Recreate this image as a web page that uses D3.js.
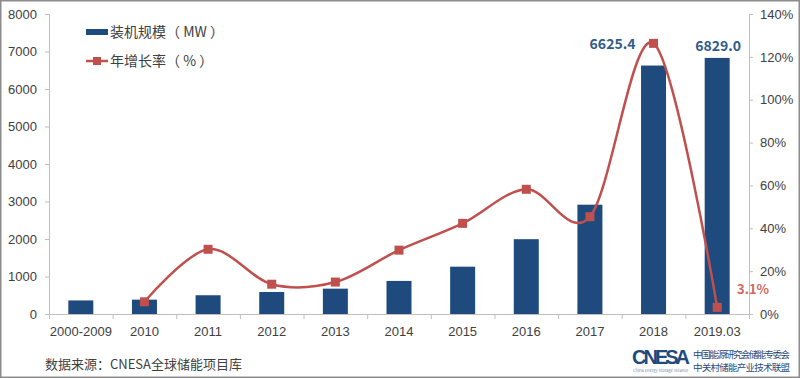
<!DOCTYPE html>
<html>
<head>
<meta charset="utf-8">
<script src="https://cdn.jsdelivr.net/npm/d3@7"></script>
<style>
  body { margin: 0; background: #fff; }
  svg { display: block; font-family: "Noto Sans CJK SC", "Noto Sans", sans-serif; }
  .axis path, .axis line { stroke: #bfbfbf; }
  .axis text { fill: #404040; font-size: 13px; }
</style>
</head>
<body>
<svg width="800" height="378"></svg>
<script>
// data
let years = ["2000-2009", "2010", "2011", "2012", "2013", "2014", "2015", "2016", "2017", "2018", "2019.03"];
let capacity = [362, 383, 500, 587, 676, 882, 1262, 1995, 2915, 6625.4, 6829.0];   // MW
let growth = [null, 5.7, 30.2, 13.9, 14.9, 29.8, 42.3, 58.2, 45.4, 126.3, 3.1];    // %
let leftTicks = [0, 1000, 2000, 3000, 4000, 5000, 6000, 7000, 8000];
let rightTicks = [0, 20, 40, 60, 80, 100, 120, 140];

let svg = d3.select("svg"),
    width = +svg.attr("width"),
    height = +svg.attr("height");

const BLUE = "#1f4a7e", RED = "#c0504d";

// frame
svg.append("rect")
  .attr("x", 0.75).attr("y", 0.75)
  .attr("width", width - 1.5).attr("height", height - 1.5)
  .attr("fill", "#fff").attr("stroke", "#8c8c8c").attr("stroke-width", 1.5);

let x = d3.scaleBand().domain(years).range([49, 749]);
let y = d3.scaleLinear().domain([0, 8000]).range([314, 14]);
let y2 = d3.scaleLinear().domain([0, 140]).range([314, 14]);

// left axis
let gl = svg.append("g").attr("class", "axis")
  .attr("transform", "translate(49,0)")
  .call(d3.axisLeft(y).tickValues(leftTicks).tickSize(4).tickPadding(8).tickFormat(d3.format("d")));

// right axis
let gr = svg.append("g").attr("class", "axis")
  .attr("transform", "translate(749,0)")
  .call(d3.axisRight(y2).tickValues(rightTicks).tickSize(4).tickPadding(7).tickFormat(d => d + "%"));

// bottom axis (labels), ticks on category boundaries
let gb = svg.append("g").attr("class", "axis")
  .attr("transform", "translate(0,314)")
  .call(d3.axisBottom(x).tickSize(0).tickPadding(13));
gb.select(".domain").attr("d", "M49,0.5H749");
gb.selectAll(".bound")
  .data(years.map(d => x(d)).concat([x.range()[1]]))
  .enter().append("line")
  .attr("x1", d => d + 0.5).attr("x2", d => d + 0.5)
  .attr("y1", 0).attr("y2", 5)
  .attr("stroke", "#bfbfbf");

// bars
let barW = 25;
svg.append("g").selectAll("rect")
  .data(capacity)
  .enter().append("rect")
  .attr("x", (d, i) => x(years[i]) + x.bandwidth() / 2 - barW / 2)
  .attr("y", d => y(d))
  .attr("width", barW)
  .attr("height", d => y(0) - y(d))
  .attr("fill", BLUE);

// growth line (smoothed like excel)
let pts = growth.map((g, i) => ({ year: years[i], g: g })).filter(d => d.g !== null);
let line = d3.line()
  .x(d => x(d.year) + x.bandwidth() / 2)
  .y(d => y2(d.g))
  .curve(d3.curveCardinal.tension(0));

svg.append("path")
  .datum(pts)
  .attr("d", line)
  .attr("fill", "none")
  .attr("stroke", RED)
  .attr("stroke-width", 2.5);

svg.append("g").selectAll("rect")
  .data(pts)
  .enter().append("rect")
  .attr("x", d => x(d.year) + x.bandwidth() / 2 - 4.5)
  .attr("y", d => y2(d.g) - 4.5)
  .attr("width", 9).attr("height", 9)
  .attr("fill", RED);

// data labels
svg.append("text")
  .attr("x", x("2018") + x.bandwidth() / 2 - 41).attr("y", y(6625.4) - 17)
  .attr("text-anchor", "middle")
  .style("font-size", "14px").style("font-weight", "bold").attr("fill", "#2f5c8a")
  .text("6625.4");
svg.append("text")
  .attr("x", x("2019.03") + x.bandwidth() / 2 + 1).attr("y", y(6829.0) - 7)
  .attr("text-anchor", "middle")
  .style("font-size", "14px").style("font-weight", "bold").attr("fill", "#2f5c8a")
  .text("6829.0");
svg.append("text")
  .attr("x", 737).attr("y", y2(3.1) - 13)
  .style("font-size", "13px").style("font-weight", "bold").attr("fill", "#d0685f")
  .text("3.1%");

// legend
let lg = svg.append("g");
lg.append("rect").attr("x", 86).attr("y", 29).attr("width", 22).attr("height", 6).attr("fill", BLUE);
lg.append("text").attr("x", 110).attr("y", 32).attr("dy", "0.35em")
  .style("font-size", "14px").attr("fill", "#404040").text("装机规模（ MW ）");
lg.append("line").attr("x1", 86).attr("x2", 108).attr("y1", 61).attr("y2", 61)
  .attr("stroke", RED).attr("stroke-width", 2.5);
lg.append("rect").attr("x", 93).attr("y", 57).attr("width", 8).attr("height", 8).attr("fill", RED);
lg.append("text").attr("x", 110).attr("y", 61).attr("dy", "0.35em")
  .style("font-size", "14px").attr("fill", "#404040").text("年增长率（ % ）");

// source
svg.append("text").attr("x", 45).attr("y", 364).attr("dy", "0.35em")
  .style("font-size", "13px").attr("fill", "#404040")
  .text("数据来源：CNESA全球储能项目库");

// logo
let logo = svg.append("g");
logo.append("text").attr("x", 632).attr("y", 364)
  .style("font-family", "'Liberation Sans', sans-serif")
  .style("font-size", "20px").style("font-weight", "bold")
  .attr("fill", "#1f4a7e").attr("textLength", 58).text("CNESA");
logo.append("text").attr("x", 633).attr("y", 372)
  .style("font-size", "4px").attr("fill", "#6f8fb0").text("China Energy Storage Alliance");
logo.append("text").attr("x", 693).attr("y", 358)
  .style("font-size", "9.5px").attr("fill", "#1f4a7e").attr("textLength", 97).text("中国能源研究会储能专委会");
logo.append("text").attr("x", 693).attr("y", 371)
  .style("font-size", "9.5px").attr("fill", "#1f4a7e").attr("textLength", 97).text("中关村储能产业技术联盟");
</script>
</body>
</html>
